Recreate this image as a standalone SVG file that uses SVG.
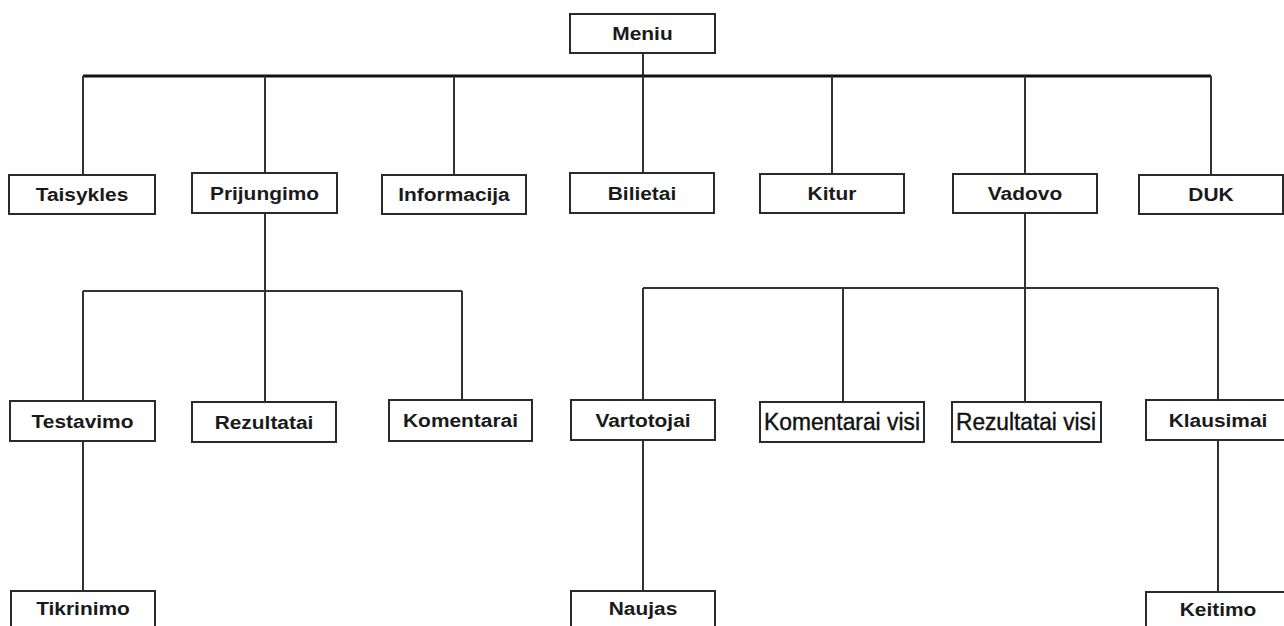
<svg xmlns="http://www.w3.org/2000/svg" width="1284" height="626" viewBox="0 0 1284 626">
  <style>
    .box { fill: #ffffff; stroke: #2a2a2a; stroke-width: 2; }
    .lbl { font-family: "Liberation Sans", Arial, sans-serif; font-size: 19px; font-weight: bold; fill: #1a1a1a; text-anchor: middle; }
    .nar { font-family: "Liberation Sans Narrow", "Liberation Sans", Arial, sans-serif; font-size: 23px; font-weight: normal; fill: #111111; stroke: #111111; stroke-width: 0.4; text-anchor: middle; }
    .ln { stroke: #333333; stroke-width: 2; fill: none; }
    .bar { stroke: #111111; stroke-width: 3; fill: none; }
  </style>
  <rect width="1284" height="626" fill="#ffffff"/>

  <g id="connectors">
    <!-- root to first level -->
    <line class="ln" x1="643" y1="53" x2="643" y2="76"/>
    <line class="bar" x1="83" y1="76" x2="1211" y2="76"/>
    <line class="ln" x1="83" y1="76" x2="83" y2="175"/>
    <line class="ln" x1="265" y1="76" x2="265" y2="173"/>
    <line class="ln" x1="454" y1="76" x2="454" y2="175"/>
    <line class="ln" x1="643" y1="76" x2="643" y2="173"/>
    <line class="ln" x1="832" y1="76" x2="832" y2="174"/>
    <line class="ln" x1="1025" y1="76" x2="1025" y2="174"/>
    <line class="ln" x1="1211" y1="76" x2="1211" y2="175"/>
    <!-- Prijungimo branch -->
    <line class="ln" x1="265" y1="213" x2="265" y2="291"/>
    <line class="ln" x1="83" y1="291" x2="462" y2="291"/>
    <line class="ln" x1="83" y1="291" x2="83" y2="401"/>
    <line class="ln" x1="265" y1="291" x2="265" y2="402"/>
    <line class="ln" x1="462" y1="291" x2="462" y2="400"/>
    <!-- Vadovo branch -->
    <line class="ln" x1="1025" y1="213" x2="1025" y2="288"/>
    <line class="ln" x1="643" y1="288" x2="1218" y2="288"/>
    <line class="ln" x1="643" y1="288" x2="643" y2="400"/>
    <line class="ln" x1="843" y1="288" x2="843" y2="402"/>
    <line class="ln" x1="1025" y1="288" x2="1025" y2="402"/>
    <line class="ln" x1="1218" y1="288" x2="1218" y2="400"/>
    <!-- third level -->
    <line class="ln" x1="83" y1="441" x2="83" y2="591"/>
    <line class="ln" x1="643" y1="440" x2="643" y2="591"/>
    <line class="ln" x1="1218" y1="440" x2="1218" y2="592"/>
  </g>

  <g id="meniu">
    <rect class="box" x="570" y="14" width="145" height="39"/>
    <text class="lbl" transform="translate(642.5 40) scale(1.1 1)">Meniu</text>
  </g>

  <g id="taisykles">
    <rect class="box" x="9" y="175" width="146" height="39"/>
    <text class="lbl" transform="translate(82 201) scale(1.1 1)">Taisykles</text>
  </g>
  <g id="prijungimo">
    <rect class="box" x="192" y="173" width="145" height="40"/>
    <text class="lbl" transform="translate(264.5 200) scale(1.1 1)">Prijungimo</text>
  </g>
  <g id="informacija">
    <rect class="box" x="382" y="175" width="144" height="39"/>
    <text class="lbl" transform="translate(454 201) scale(1.1 1)">Informacija</text>
  </g>
  <g id="bilietai">
    <rect class="box" x="570" y="173" width="144" height="40"/>
    <text class="lbl" transform="translate(642 200) scale(1.1 1)">Bilietai</text>
  </g>
  <g id="kitur">
    <rect class="box" x="760" y="174" width="144" height="39"/>
    <text class="lbl" transform="translate(832 200) scale(1.1 1)">Kitur</text>
  </g>
  <g id="vadovo">
    <rect class="box" x="953" y="174" width="144" height="39"/>
    <text class="lbl" transform="translate(1025 200) scale(1.1 1)">Vadovo</text>
  </g>
  <g id="duk">
    <rect class="box" x="1139" y="175" width="144" height="39"/>
    <text class="lbl" transform="translate(1211 201) scale(1.1 1)">DUK</text>
  </g>

  <g id="testavimo">
    <rect class="box" x="10" y="401" width="145" height="40"/>
    <text class="lbl" transform="translate(82.5 428) scale(1.1 1)">Testavimo</text>
  </g>
  <g id="rezultatai">
    <rect class="box" x="192" y="402" width="144" height="40"/>
    <text class="lbl" transform="translate(264 429) scale(1.1 1)">Rezultatai</text>
  </g>
  <g id="komentarai">
    <rect class="box" x="389" y="400" width="143" height="41"/>
    <text class="lbl" transform="translate(460.5 427) scale(1.1 1)">Komentarai</text>
  </g>
  <g id="vartotojai">
    <rect class="box" x="571" y="400" width="144" height="40"/>
    <text class="lbl" transform="translate(643 427) scale(1.1 1)">Vartotojai</text>
  </g>
  <g id="komentarai-visi">
    <rect class="box" x="760" y="402" width="164" height="40"/>
    <text class="nar" x="842" y="430" textLength="156" lengthAdjust="spacingAndGlyphs">Komentarai visi</text>
  </g>
  <g id="rezultatai-visi">
    <rect class="box" x="952" y="402" width="149" height="40"/>
    <text class="nar" x="1026" y="430" textLength="140" lengthAdjust="spacingAndGlyphs">Rezultatai visi</text>
  </g>
  <g id="klausimai">
    <rect class="box" x="1146" y="400" width="145" height="40"/>
    <text class="lbl" transform="translate(1218 427) scale(1.1 1)">Klausimai</text>
  </g>

  <g id="tikrinimo">
    <rect class="box" x="11" y="591" width="144" height="45"/>
    <text class="lbl" transform="translate(83 615) scale(1.1 1)">Tikrinimo</text>
  </g>
  <g id="naujas">
    <rect class="box" x="571" y="591" width="144" height="45"/>
    <text class="lbl" transform="translate(643 615) scale(1.1 1)">Naujas</text>
  </g>
  <g id="keitimo">
    <rect class="box" x="1146" y="592" width="145" height="45"/>
    <text class="lbl" transform="translate(1218 616) scale(1.1 1)">Keitimo</text>
  </g>
</svg>
